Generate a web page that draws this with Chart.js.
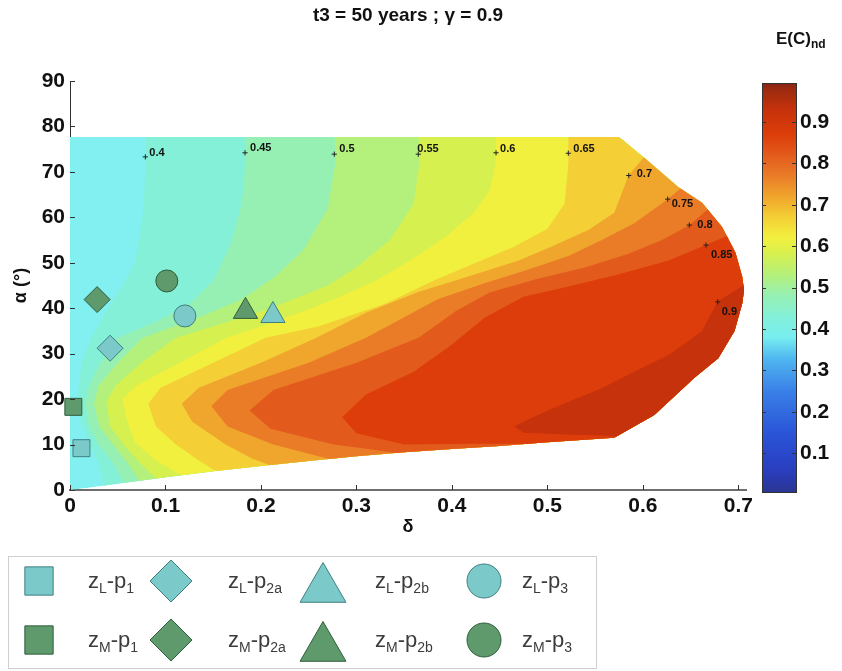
<!DOCTYPE html>
<html>
<head>
<meta charset="utf-8">
<script src="https://cdn.jsdelivr.net/npm/chart.js@4/dist/chart.umd.min.js"></script>
<style>
html,body{margin:0;padding:0;background:#fff;overflow:hidden}
#wrap{width:842px;height:671px;position:relative}
</style>
</head>
<body>
<div id="wrap"><canvas id="c" width="842" height="671"></canvas></div>
<script>
// ---------------- DATA ----------------
const deltaTicks = [0, 0.1, 0.2, 0.3, 0.4, 0.5, 0.6, 0.7];
const alphaTicks = [0, 10, 20, 30, 40, 50, 60, 70, 80, 90];
const colorbarTicks = [0.1, 0.2, 0.3, 0.4, 0.5, 0.6, 0.7, 0.8, 0.9];
const colorbarLimits = [0.006, 0.993];

// outline of the computed domain (delta, alpha)
const domainDelta = [0, 0.02, 0.05, 0.1, 0.15, 0.2, 0.25, 0.3, 0.35, 0.4, 0.45, 0.5, 0.57, 0.612, 0.654, 0.679, 0.696, 0.704, 0.706, 0.704, 0.697, 0.683, 0.662, 0.637, 0.602, 0.575, 0];
const domainAlpha = [0, 0.5, 1.4, 2.8, 4.1, 5.3, 6.4, 7.4, 8.3, 9.0, 9.7, 10.5, 11.5, 16.5, 24.7, 29, 35, 41, 44, 47, 52.2, 57.9, 63.2, 66.7, 73, 77.7, 77.7];

// contour levels of E(C)nd and their lines [delta, alpha]
const contourLevels = [0.40, 0.45, 0.50, 0.55, 0.60, 0.65, 0.70, 0.75, 0.80, 0.85, 0.90];
const contour40 = [[0.079,80],[0.079,70],[0.076,60],[0.068,50],[0.055,45],[0.04,40],[0.022,33.5],[0.012,28],[0.009,22],[0.009,18],[0.013,14],[0.021,10],[0.03,6],[0.036,0.5]];
const contour45 = [[0.183,80],[0.184,72],[0.18,63],[0.168,54],[0.15,46],[0.125,41],[0.09,37],[0.05,33.5],[0.032,28],[0.02,23],[0.016,19],[0.02,14],[0.03,10],[0.045,6],[0.058,1.0]];
const contour50 = [[0.277,80],[0.278,72],[0.27,62],[0.245,53],[0.215,47],[0.18,42],[0.13,37.5],[0.076,33.5],[0.05,28],[0.03,23],[0.025,19],[0.031,14],[0.045,10],[0.06,6],[0.074,1.6]];
const contour55 = [[0.365,80],[0.366,72],[0.36,63],[0.335,55],[0.3,49],[0.27,45],[0.21,40],[0.15,36],[0.111,33.5],[0.075,28],[0.048,23],[0.038,19.5],[0.042,14],[0.056,10],[0.073,6],[0.092,2.2]];
const contour60 = [[0.446,80],[0.446,72],[0.44,66],[0.423,61],[0.395,56],[0.36,51],[0.32,46],[0.26,40.5],[0.2,36],[0.164,33.5],[0.115,28],[0.07,23],[0.055,20],[0.06,15],[0.068,10.5],[0.09,6.5],[0.11,4],[0.12,2.8]];
const contour65 = [[0.522,80],[0.522,72],[0.518,63],[0.5,57.5],[0.465,53.5],[0.425,50],[0.38,46],[0.33,41],[0.26,36],[0.205,33.5],[0.15,28],[0.095,22.5],[0.082,19],[0.09,14],[0.111,10],[0.135,6.5],[0.15,4.5],[0.16,3.6]];
const contour70 = [[0.62,78],[0.585,69.2],[0.57,61],[0.543,57.2],[0.504,53.5],[0.47,50.5],[0.417,47],[0.364,43.5],[0.31,39],[0.258,33.5],[0.2,28],[0.135,22.5],[0.117,19],[0.128,15],[0.163,10],[0.19,7],[0.215,5]];
const contour75 = [[0.66,70],[0.626,64],[0.591,58.7],[0.557,55],[0.522,51.5],[0.48,48.5],[0.434,45.5],[0.385,42],[0.35,38],[0.31,33.5],[0.25,28],[0.165,22],[0.148,18.5],[0.165,14],[0.213,10],[0.25,8],[0.28,6.4]];
const contour80 = [[0.68,64],[0.649,58.3],[0.62,55],[0.585,52],[0.54,49],[0.49,46.5],[0.44,43.5],[0.405,39.5],[0.365,33.5],[0.3,28],[0.213,22],[0.188,17.5],[0.21,13.5],[0.276,10],[0.32,8.8],[0.35,7.8]];
const contour85 = [[0.7,57],[0.666,53.9],[0.627,50.5],[0.575,47.5],[0.522,44.8],[0.475,42.5],[0.435,38],[0.4,32],[0.36,26],[0.31,21],[0.285,16],[0.3,12.5],[0.35,10],[0.42,10.2],[0.47,10.2],[0.5,9.8]];
const contour90 = [[0.73,48],[0.705,45],[0.678,41.4],[0.662,35],[0.627,29.7],[0.591,26],[0.557,22.4],[0.522,19.4],[0.49,16.5],[0.465,14],[0.475,12.6],[0.52,12.2],[0.56,12],[0.6,11]];

// contour label anchor points (delta, alpha)
const contourLabelDelta = [0.0789, 0.1833, 0.2768, 0.3648, 0.4462, 0.5219, 0.5852, 0.6260, 0.6486, 0.6661, 0.6784];
const contourLabelAlpha = [73.3, 74.2, 73.9, 73.9, 74.2, 74.1, 69.2, 64.0, 58.3, 53.9, 41.4];

// site markers
const markerNames = ['z_L-p_1', 'z_L-p_2a', 'z_L-p_2b', 'z_L-p_3', 'z_M-p_1', 'z_M-p_2a', 'z_M-p_2b', 'z_M-p_3'];
const markerDelta = [0.012, 0.042, 0.2125, 0.1203, 0.0035, 0.0284, 0.1838, 0.1014];
const markerAlpha = [9.2, 31.2, 38.4, 38.3, 18.3, 41.9, 39.3, 46.0];

// ---------------- STYLE ----------------
const FONT = "'Liberation Sans', Arial, sans-serif";
const bandColors = ['#82f0f0','#84f0d8','#96f0b4','#b4f07c','#d6f050','#f2f03e','#f4cf36','#f0a52c','#ea7c28','#e35b1c','#dc3d0a','#c6320b'];
const cmapStops = [[0.0,'#2b3592'],[0.06,'#2a3ec0'],[0.15,'#2a55d8'],[0.25,'#3a80e8'],[0.33,'#50b8f0'],[0.38,'#78eef0'],[0.43,'#84f0d8'],[0.48,'#96f0b4'],[0.53,'#b4f07c'],[0.58,'#d6f050'],[0.62,'#f2f03e'],[0.67,'#f4cf36'],[0.72,'#f0a52c'],[0.77,'#ea7c28'],[0.82,'#e35b1c'],[0.87,'#dc3d0a'],[0.93,'#c6320b'],[0.98,'#9a2a10'],[1.0,'#882414']];
const markerStyles = ['rect', 'rectRot', 'triangle', 'circle'];
const markerRadius = [12, 13, 14, 11];
const legendRadius = [20, 21, 26.5, 17];
const lightFill = '#7cc9ca', lightBorder = '#3f7f80';
const darkFill = '#5e9a6c', darkBorder = '#2f5e3c';
const labelOffsets = [[4,-1],[5,-2],[5,-2],[-1,-2],[4,-1],[5,-1],[8,1],[4,8],[8,3],[5,13],[4,13]];

// ---------------- BUILD DATASETS ----------------
const contourLines = [contour40, contour45, contour50, contour55, contour60, contour65, contour70, contour75, contour80, contour85, contour90];
const datasets = [];
datasets.push({
  type: 'line', label: 'domain',
  data: domainDelta.map((d, i) => ({x: d, y: domainAlpha[i]})),
  fill: 'shape', backgroundColor: bandColors[0], borderColor: 'transparent', borderWidth: 0,
  pointRadius: 0, order: 100
});
contourLines.forEach((line, i) => {
  const pts = line.map(p => ({x: p[0], y: p[1]}));
  pts.push({x: 1.2, y: -20}, {x: 1.2, y: 120});
  datasets.push({
    type: 'line', label: 'E>' + contourLevels[i], data: pts,
    fill: 'shape', backgroundColor: bandColors[i + 1], borderColor: 'transparent', borderWidth: 0,
    pointRadius: 0, order: 99 - i
  });
});
const LAST_CONTOUR_ORDER = 99 - (contourLines.length - 1);
datasets.push({
  type: 'line', label: 'contour labels',
  data: contourLabelDelta.map((d, i) => ({x: d, y: contourLabelAlpha[i]})),
  showLine: false, pointStyle: 'cross', pointRadius: 2.6, borderColor: '#222', borderWidth: 1,
  order: 50
});
markerNames.forEach((n, i) => {
  const light = i < 4;
  datasets.push({
    type: 'line', label: n,
    data: [{x: markerDelta[i], y: markerAlpha[i]}],
    showLine: false, pointStyle: markerStyles[i % 4], pointRadius: markerRadius[i % 4],
    backgroundColor: light ? lightFill : darkFill, borderColor: light ? lightBorder : darkBorder,
    borderWidth: 1, clip: false, order: 0
  });
});

// ---------------- HELPERS ----------------
function drawSubText(ctx, text, x, y, size, subSize, weight, color) {
  const tokens = text.split(/(_[^-]+)/).filter(t => t.length);
  ctx.fillStyle = color;
  ctx.textAlign = 'left';
  ctx.textBaseline = 'alphabetic';
  let cx = x;
  tokens.forEach(t => {
    if (t[0] === '_') {
      ctx.font = weight + ' ' + subSize + 'px ' + FONT;
      ctx.fillText(t.slice(1), cx, y + subSize * 0.35);
      cx += ctx.measureText(t.slice(1)).width;
    } else {
      ctx.font = weight + ' ' + size + 'px ' + FONT;
      ctx.fillText(t, cx, y);
      cx += ctx.measureText(t).width;
    }
  });
}
function dPoint(ctx, style, r, x, y) {
  if (Chart.helpers && Chart.helpers.drawPoint) {
    Chart.helpers.drawPoint(ctx, {pointStyle: style, radius: r, borderWidth: 1, rotation: 0}, x, y);
  } else {
    ctx.beginPath(); ctx.arc(x, y, r, 0, Math.PI * 2); ctx.fill(); ctx.stroke();
  }
}

// ---------------- PLUGINS ----------------
const domainClip = {
  id: 'domainClip',
  beforeDatasetsDraw(chart) {
    const {ctx, scales: {x, y}} = chart;
    ctx.save();
    ctx.beginPath();
    domainDelta.forEach((d, i) => {
      const px = x.getPixelForValue(d), py = y.getPixelForValue(domainAlpha[i]);
      if (i) ctx.lineTo(px, py); else ctx.moveTo(px, py);
    });
    ctx.closePath();
    ctx.clip();
    chart.$domainClipped = true;
  },
  afterDatasetDraw(chart, args) {
    const ds = chart.data.datasets[args.index];
    if (chart.$domainClipped && ds.order === LAST_CONTOUR_ORDER) {
      chart.ctx.restore();
      chart.$domainClipped = false;
    }
  },
  afterDatasetsDraw(chart) {
    if (chart.$domainClipped) { chart.ctx.restore(); chart.$domainClipped = false; }
  }
};

const decorations = {
  id: 'decorations',
  afterDraw(chart) {
    const {ctx, scales: {x, y, cb}} = chart;
    ctx.save();
    // inner tick marks
    ctx.strokeStyle = '#333'; ctx.lineWidth = 1;
    deltaTicks.forEach(v => {
      const px = Math.round(x.getPixelForValue(v)) + 0.5;
      ctx.beginPath(); ctx.moveTo(px, y.bottom); ctx.lineTo(px, y.bottom - 5); ctx.stroke();
    });
    alphaTicks.forEach(v => {
      const py = Math.round(y.getPixelForValue(v)) + 0.5;
      ctx.beginPath(); ctx.moveTo(x.left, py); ctx.lineTo(x.left + 5, py); ctx.stroke();
    });
    // contour labels
    ctx.fillStyle = '#111';
    ctx.font = 'bold 11px ' + FONT;
    ctx.textAlign = 'left'; ctx.textBaseline = 'alphabetic';
    contourLevels.forEach((lv, i) => {
      const px = x.getPixelForValue(contourLabelDelta[i]), py = y.getPixelForValue(contourLabelAlpha[i]);
      const t = (Math.round(lv * 100) % 10 === 0) ? lv.toFixed(1) : lv.toFixed(2);
      ctx.fillText(t, px + labelOffsets[i][0], py + labelOffsets[i][1]);
    });
    // colour bar
    const bx = 762, bw = 34;
    const yTop = cb.getPixelForValue(colorbarLimits[1]);
    const yBot = cb.getPixelForValue(colorbarLimits[0]);
    const g = ctx.createLinearGradient(0, yBot, 0, yTop);
    cmapStops.forEach(([v, c]) => {
      const f = (v - colorbarLimits[0]) / (colorbarLimits[1] - colorbarLimits[0]);
      g.addColorStop(Math.min(1, Math.max(0, f)), c);
    });
    ctx.fillStyle = g;
    ctx.fillRect(bx, yTop, bw, yBot - yTop);
    ctx.strokeStyle = '#333'; ctx.lineWidth = 1;
    ctx.strokeRect(bx + 0.5, Math.round(yTop) + 0.5, bw, Math.round(yBot - yTop));
    colorbarTicks.forEach(v => {
      const py = Math.round(cb.getPixelForValue(v)) + 0.5;
      ctx.beginPath(); ctx.moveTo(bx, py); ctx.lineTo(bx + 4, py);
      ctx.moveTo(bx + bw, py); ctx.lineTo(bx + bw - 4, py); ctx.stroke();
    });
    drawSubText(ctx, 'E(C)_nd', 776, 44, 17, 12, 'bold', '#111');
    // legend box
    ctx.strokeStyle = '#cfcfcf'; ctx.lineWidth = 1;
    ctx.strokeRect(8.5, 556.5, 588, 112);
    const colX = [39, 171, 323, 484];
    const labX = [88, 228, 375, 522];
    const rowY = [581, 640];
    markerNames.forEach((n, i) => {
      const row = i < 4 ? 0 : 1, col = i % 4;
      ctx.fillStyle = row === 0 ? lightFill : darkFill;
      ctx.strokeStyle = row === 0 ? lightBorder : darkBorder;
      ctx.lineWidth = 1;
      const style = markerStyles[col];
      const cy = rowY[row] + (style === 'triangle' ? 8 : 0);
      dPoint(ctx, style, legendRadius[col], colX[col], cy);
      drawSubText(ctx, n, labX[col], rowY[row] + 7, 22, 14, 'normal', '#3c3c3c');
    });
    ctx.restore();
  }
};

// ---------------- CHART ----------------
const tickFont = {family: FONT, size: 21, weight: 'bold'};
new Chart(document.getElementById('c'), {
  type: 'line',
  data: {datasets},
  options: {
    responsive: false,
    animation: false,
    events: [],
    layout: {padding: {left: 0, right: 0, top: 0, bottom: 133}},
    plugins: {
      legend: {display: false},
      tooltip: {enabled: false},
      title: {
        display: true, text: 't3 = 50 years ; γ = 0.9', fullSize: false,
        font: {family: FONT, size: 19, weight: 'bold'}, color: '#111',
        padding: {top: 4, bottom: 54.2}
      }
    },
    scales: {
      x: {
        type: 'linear', position: 'bottom', min: 0, max: 0.708,
        grid: {display: false, drawTicks: false},
        border: {display: true, color: '#6e6e6e', width: 2},
        ticks: {padding: 4, font: tickFont, color: '#111', maxRotation: 0, autoSkip: false,
          callback: v => v === 0 ? '0' : v.toFixed(1)},
        afterBuildTicks: s => { s.ticks = deltaTicks.map(v => ({value: v})); },
        afterFit: s => { s.height = 48; },
        title: {display: true, text: 'δ', font: {family: FONT, size: 18, weight: 'bold'}, color: '#111', padding: 0}
      },
      y: {
        type: 'linear', position: 'left', min: 0, max: 90,
        grid: {display: false, drawTicks: false},
        border: {display: true, color: '#333', width: 1},
        ticks: {padding: 5, font: tickFont, color: '#111', autoSkip: false,
          callback: v => String(v)},
        afterBuildTicks: s => { s.ticks = alphaTicks.map(v => ({value: v})); },
        afterFit: s => { s.width = 70; },
        title: {display: true, text: 'α (°)', font: {family: FONT, size: 18, weight: 'bold'}, color: '#111', padding: {top: 10, bottom: 0}}
      },
      cb: {
        type: 'linear', position: 'right', min: 0.011, max: 0.999,
        grid: {display: false, drawTicks: false},
        border: {display: false},
        ticks: {padding: 54, font: tickFont, color: '#111', autoSkip: false,
          callback: v => v.toFixed(1)},
        afterBuildTicks: s => { s.ticks = colorbarTicks.map(v => ({value: v})); },
        afterFit: s => { s.width = 96; }
      }
    }
  },
  plugins: [domainClip, decorations]
});
</script>
</body>
</html>
